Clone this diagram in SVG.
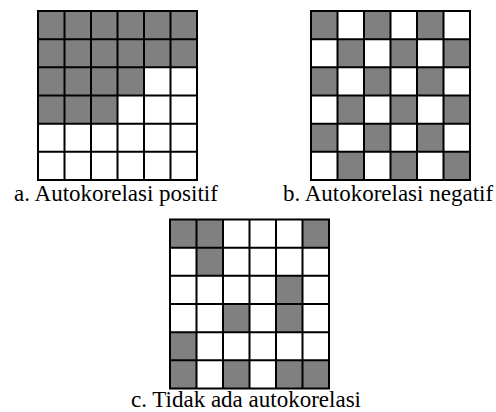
<svg xmlns="http://www.w3.org/2000/svg" xmlns:xlink="http://www.w3.org/1999/xlink" width="496" height="412" viewBox="0 0 496 412">
<style>
.g{fill:#808080;stroke:none}
.ln{fill:none;stroke:#000;stroke-width:2;stroke-linecap:square}
.lbl{font-family:"Liberation Serif","Times New Roman",serif;font-size:23px;fill:#000;text-anchor:middle}
</style>
<defs>
<path id="grid" class="ln" d="M0,0H159V169H0Z M26.5,0V169 M53,0V169 M79.5,0V169 M106,0V169 M132.5,0V169 M0,28.17H159 M0,56.33H159 M0,84.5H159 M0,112.67H159 M0,140.83H159"/>
</defs>
<rect width="496" height="412" fill="#ffffff"/>
<g id="grid-a" transform="translate(38,11)">
<rect class="g" x="0" y="0" width="159" height="56.33"/>
<rect class="g" x="0" y="56.33" width="106" height="28.17"/>
<rect class="g" x="0" y="84.5" width="79.5" height="28.17"/>
<use xlink:href="#grid" href="#grid"/>
</g>
<g id="grid-b" transform="translate(311,11)">
<rect class="g" x="0" y="0" width="26.5" height="28.17"/>
<rect class="g" x="53" y="0" width="26.5" height="28.17"/>
<rect class="g" x="106" y="0" width="26.5" height="28.17"/>
<rect class="g" x="26.5" y="28.17" width="26.5" height="28.17"/>
<rect class="g" x="79.5" y="28.17" width="26.5" height="28.17"/>
<rect class="g" x="132.5" y="28.17" width="26.5" height="28.17"/>
<rect class="g" x="0" y="56.33" width="26.5" height="28.17"/>
<rect class="g" x="53" y="56.33" width="26.5" height="28.17"/>
<rect class="g" x="106" y="56.33" width="26.5" height="28.17"/>
<rect class="g" x="26.5" y="84.5" width="26.5" height="28.17"/>
<rect class="g" x="79.5" y="84.5" width="26.5" height="28.17"/>
<rect class="g" x="132.5" y="84.5" width="26.5" height="28.17"/>
<rect class="g" x="0" y="112.67" width="26.5" height="28.17"/>
<rect class="g" x="53" y="112.67" width="26.5" height="28.17"/>
<rect class="g" x="106" y="112.67" width="26.5" height="28.17"/>
<rect class="g" x="26.5" y="140.83" width="26.5" height="28.17"/>
<rect class="g" x="79.5" y="140.83" width="26.5" height="28.17"/>
<rect class="g" x="132.5" y="140.83" width="26.5" height="28.17"/>
<use xlink:href="#grid" href="#grid"/>
</g>
<g id="grid-c" transform="translate(170,219.5)">
<rect class="g" x="0" y="0" width="53" height="28.17"/>
<rect class="g" x="132.5" y="0" width="26.5" height="28.17"/>
<rect class="g" x="26.5" y="28.17" width="26.5" height="28.17"/>
<rect class="g" x="106" y="56.33" width="26.5" height="56.34"/>
<rect class="g" x="53" y="84.5" width="26.5" height="28.17"/>
<rect class="g" x="0" y="112.67" width="26.5" height="56.33"/>
<rect class="g" x="53" y="140.83" width="26.5" height="28.17"/>
<rect class="g" x="106" y="140.83" width="53" height="28.17"/>
<use xlink:href="#grid" href="#grid"/>
</g>
<g id="labels">
<text class="lbl" x="116" y="201">a. Autokorelasi positif</text>
<text class="lbl" x="388" y="201">b. Autokorelasi negatif</text>
<text class="lbl" x="246" y="407">c. Tidak ada autokorelasi</text>
</g>
</svg>
